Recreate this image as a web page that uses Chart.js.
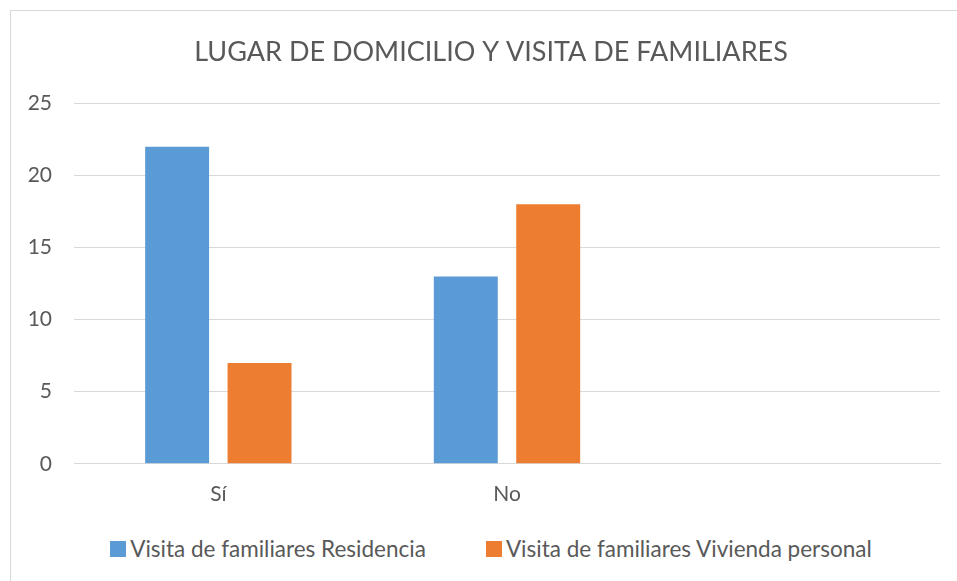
<!DOCTYPE html>
<html>
<head>
<meta charset="utf-8">
<script src="https://cdn.jsdelivr.net/npm/chart.js@4.4.0/dist/chart.umd.min.js"></script>
<style>
  html, body { margin: 0; padding: 0; background: #fff; overflow: hidden; }
  #frame {
    position: absolute; left: 10px; top: 10px;
    width: 962px; height: 620px;
    border: 1px solid #d9d9d9;
  }
  #wrap { position: absolute; left: 0; top: 0; width: 960px; height: 514px; }
  #legend {
    position: absolute; left: 0; top: 524px; width: 960px;
    display: flex; justify-content: center; gap: 60px;
    font-family: Lato, sans-serif; font-size: 22.5px; color: #595959;
    line-height: 28px;
  }
  #legend .item { display: flex; align-items: center; white-space: nowrap; }
  #legend .box { width: 16px; height: 16px; margin-right: 4px; }
</style>
</head>
<body>
<div id="frame">
  <div id="wrap"><canvas id="myChart"></canvas></div>
  <div id="legend"></div>
</div>
<script>
// chart values
const categories = ['Sí', 'No', ''];
const residencia = [22, 13, null];
const vivienda = [7, 18, null];
const yTicks = [0, 5, 10, 15, 20, 25];

const textGrey = '#595959';
const gridGrey = '#d9d9d9';

const ctx = document.getElementById('myChart').getContext('2d');
const myChart = new Chart(ctx, {
  type: 'bar',
  data: {
    labels: categories,
    datasets: [{
      label: 'Visita de familiares Residencia',
      data: residencia,
      backgroundColor: '#5b9bd5',
      categoryPercentage: 0.571,
      barPercentage: 0.776
    }, {
      label: 'Visita de familiares Vivienda personal',
      data: vivienda,
      backgroundColor: '#ed7d31',
      categoryPercentage: 0.571,
      barPercentage: 0.776
    }]
  },
  options: {
    responsive: true,
    maintainAspectRatio: false,
    animation: false,
    layout: { padding: 0 },
    plugins: {
      title: {
        display: true,
        text: 'LUGAR DE DOMICILIO Y VISITA DE FAMILIARES',
        color: textGrey,
        font: { family: 'Lato', size: 27, weight: 'normal' },
        padding: { top: 25, bottom: 35 }
      },
      legend: { display: false },
      tooltip: { enabled: false }
    },
    scales: {
      x: {
        grid: { display: false, drawTicks: false },
        border: { display: true, color: gridGrey },
        ticks: { color: textGrey, font: { family: 'Lato', size: 21 }, padding: 18 }
      },
      y: {
        min: 0,
        max: 25,
        afterBuildTicks: axis => { axis.ticks = yTicks.map(v => ({ value: v })); },
        afterFit: axis => { axis.width = 63; },
        grid: { color: gridGrey, drawTicks: false },
        border: { display: false },
        ticks: { color: textGrey, font: { family: 'Lato', size: 21 }, padding: 22 }
      },
      // empty right-hand axis, only keeps the plot clear of the right edge
      yRight: {
        position: 'right',
        afterFit: axis => { axis.width = 31; },
        grid: { display: false, drawTicks: false },
        border: { display: false },
        ticks: { display: false }
      }
    }
  }
});

// legend built from the datasets
const legend = document.getElementById('legend');
myChart.data.datasets.forEach(ds => {
  const item = document.createElement('div');
  item.className = 'item';
  const box = document.createElement('span');
  box.className = 'box';
  box.style.background = ds.backgroundColor;
  item.appendChild(box);
  item.appendChild(document.createTextNode(ds.label));
  legend.appendChild(item);
});
</script>
</body>
</html>
